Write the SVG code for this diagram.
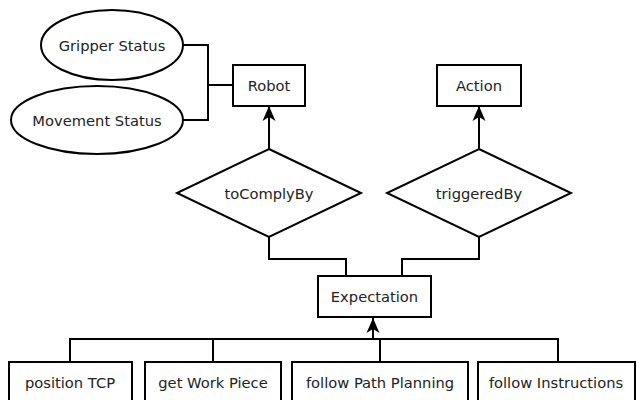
<svg xmlns="http://www.w3.org/2000/svg" width="637" height="400" viewBox="0 0 637 400">
<defs>
<style>
.s{fill:#fff;stroke:#000;stroke-width:2}
.t{font-family:"DejaVu Sans",sans-serif;font-size:14.7px;fill:#222;text-anchor:middle;dominant-baseline:central}
.c{fill:none;stroke:#000;stroke-width:2}
</style>
<marker id="ah" markerWidth="16" markerHeight="14" viewBox="0 0 16 14" refX="15" refY="7" orient="auto" markerUnits="userSpaceOnUse">
<path d="M15,7 L0,0.5 L4,7 L0,13.5 Z" fill="#000"/>
</marker>
</defs>
<rect width="637" height="400" fill="#fff"/>
<g id="connectors">
<polyline class="c" points="183,45 208,45 208,120 183,120"/>
<line class="c" x1="208" y1="85" x2="233" y2="85"/>
<line class="c" x1="269" y1="149" x2="269" y2="106" marker-end="url(#ah)"/>
<line class="c" x1="479" y1="149" x2="479" y2="106" marker-end="url(#ah)"/>
<polyline class="c" points="269,237 269,259 346,259 346,276"/>
<polyline class="c" points="479,237 479,259 402,259 402,276"/>
<polyline class="c" points="70,362 70,339 558,339 558,362"/>
<line class="c" x1="213" y1="339" x2="213" y2="362"/>
<line class="c" x1="380" y1="339" x2="380" y2="362"/>
<line class="c" x1="373" y1="339" x2="373" y2="318" marker-end="url(#ah)"/>
</g>
<g id="gripper-status"><ellipse class="s" cx="112" cy="45" rx="71" ry="35"/><text class="t" x="112" y="45">Gripper Status</text></g>
<g id="movement-status"><ellipse class="s" cx="97" cy="120" rx="86" ry="34"/><text class="t" x="97" y="120">Movement Status</text></g>
<g id="robot"><rect class="s" x="233" y="65" width="72" height="41"/><text class="t" x="269" y="85">Robot</text></g>
<g id="action"><rect class="s" x="437" y="65" width="84" height="41"/><text class="t" x="479" y="85">Action</text></g>
<g id="toComplyBy"><polygon class="s" points="269,149 361,193 269,237 177,193"/><text class="t" x="269" y="193">toComplyBy</text></g>
<g id="triggeredBy"><polygon class="s" points="479,149 571,193 479,237 387,193"/><text class="t" x="479" y="193">triggeredBy</text></g>
<g id="expectation"><rect class="s" x="318" y="276" width="113" height="41"/><text class="t" x="374.5" y="296">Expectation</text></g>
<g id="position-tcp"><rect class="s" x="9" y="362" width="123" height="45"/><text class="t" x="70" y="382">position TCP</text></g>
<g id="get-work-piece"><rect class="s" x="145" y="362" width="136" height="45"/><text class="t" x="213" y="382">get Work Piece</text></g>
<g id="follow-path-planning"><rect class="s" x="292" y="362" width="176" height="45"/><text class="t" x="380" y="382">follow Path Planning</text></g>
<g id="follow-instructions"><rect class="s" x="478" y="362" width="157" height="45"/><text class="t" x="556" y="382">follow Instructions</text></g>
</svg>
